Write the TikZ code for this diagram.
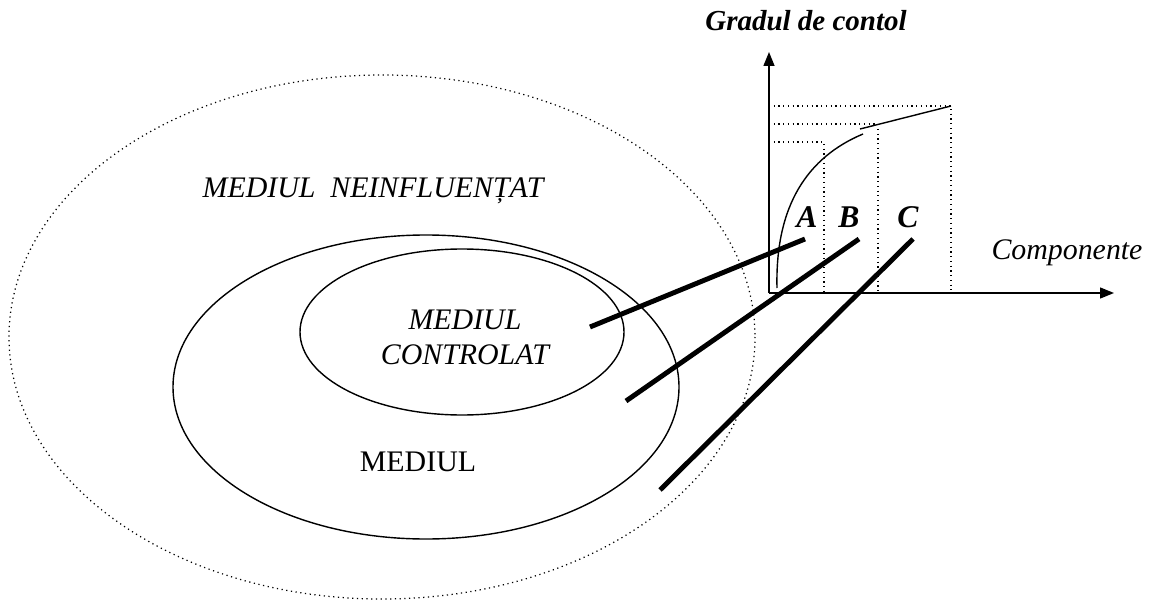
\documentclass[tikz,border=0pt]{standalone}
\usepackage{fontspec}
\setmainfont{Liberation Serif}
\usetikzlibrary{arrows.meta}

\begin{document}
\begin{tikzpicture}[x=0.02cm, y=-0.02cm,
    thin line/.style={line width=0.8pt},
    guide/.style={dotted, line width=0.7pt},
    link/.style={line width=2.8pt},
    zone/.style={font=\fontsize{17}{20}\selectfont\itshape, align=center},
    part/.style={font=\fontsize{18}{21}\selectfont\bfseries\itshape}]

        \useasboundingbox (0,0) rectangle (1149,601);

        % Ellipses of the environment
        \draw[guide] (382,337) ellipse (373 and 262);
        \draw[thin line] (426,387) ellipse (253 and 152);
        \draw[thin line] (462,332) ellipse (162 and 83);

        % Labels of the ellipses
        \node[zone] (neinfl) at (373,191) {MEDIUL\ \ NEINFLUEN\char"021A AT};
        \node[zone] (contr) at (465,337) {MEDIUL\\CONTROLAT};
        \node[font=\fontsize{17}{20}\selectfont] (mediul) at (418,462) {MEDIUL};

        % Axes
        \coordinate (o) at (769,293);
        \coordinate (ytop) at (769,52);
        \coordinate (xend) at (1114,293);
        \draw[thin line, -{Triangle[length=14pt*0.567, width=11pt*0.567]}] (o) -- (ytop);
        \draw[thin line, -{Triangle[length=14pt*0.567, width=11pt*0.567]}] (o) -- (xend);
        \node[font=\fontsize{16.5}{19}\selectfont\bfseries\itshape] (gradul) at (806,21) {Gradul de contol};
        \node[font=\fontsize{17}{20}\selectfont\itshape] (comp) at (1067,253) {Componente};

        % Dotted levels
        \draw[guide] (o |- 0,142) -- (824,142) -- (824,293);
        \draw[guide] (o |- 0,124) -- (878,124) -- (878,293);
        \draw[guide] (o |- 0,106) -- (951,106) -- (951,293);

        % Control curve
        \draw[thin line] (777,288) .. controls (775,205) and (808,157) .. (863,134);
        \draw[thin line] (860,129) -- (951,106);

        % Component labels
        \node[part] (a) at (807,217) {A};
        \node[part] (b) at (849,217) {B};
        \node[part] (c) at (908,217) {C};

        % Thick links
        \coordinate (ea) at (590,327);
        \coordinate (eb) at (626,401);
        \coordinate (ec) at (660,490);
        \draw[link] (ea) -- (805,239);
        \draw[link] (eb) -- (859,239);
        \draw[link] (ec) -- (913,239);

    \end{tikzpicture}
\end{document}
